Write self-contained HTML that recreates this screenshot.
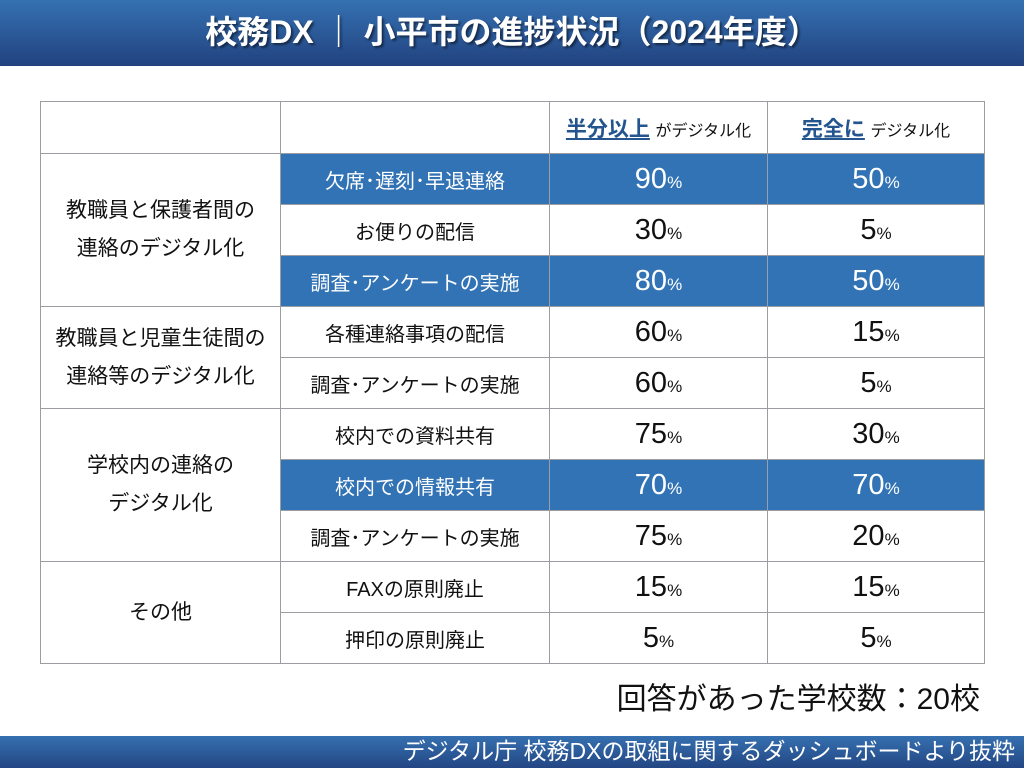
<!DOCTYPE html>
<html><head><meta charset="utf-8"><style>
body{margin:0;width:1024px;height:768px;position:relative;background:#fff;font-family:"Liberation Sans","Noto Sans CJK JP",sans-serif;overflow:hidden}
.hdr{position:absolute;left:0;top:0;width:1024px;height:66px;background:linear-gradient(#3571b2,#22427f);color:#fff;font-weight:bold;font-size:32px;text-align:center;line-height:64px;text-shadow:2px 2px 2px rgba(0,0,0,.5)}
table{position:absolute;left:40px;top:101px;border-collapse:collapse;table-layout:fixed}
td{border:1px solid #9a9ea3;text-align:center;font-size:20px;height:50px;padding:0;color:#111}
tr.h td{height:51px}
.b td.s{background:#3273b5;color:#fff;border-color:#9a9ea3}
.n{font-size:29px}
.n small{font-size:17px}
.u{color:#24558f;font-weight:bold;text-decoration:underline;font-size:21px}
.sm{font-size:16px}
.l{font-size:21px;line-height:38px}
.cnt{position:absolute;right:44px;top:674px;font-size:30px;color:#111}
.ftr{position:absolute;left:0;top:736px;width:1024px;height:32px;background:linear-gradient(#3670b0,#234683);color:#fff;font-size:23px;line-height:31px;text-align:right;box-sizing:border-box;padding-right:9px}
</style></head><body>
<div class="hdr">校務DX ｜ 小平市の進捗状況（2024年度）</div>
<table>
<colgroup><col style="width:240px"><col style="width:269px"><col style="width:218px"><col style="width:217px"></colgroup>
<tr class="h"><td></td><td></td><td><span class="u">半分以上</span> <span class="sm">がデジタル化</span></td><td><span class="u">完全に</span> <span class="sm">デジタル化</span></td></tr>
<tr class="b"><td rowspan="3" class="l">教職員と保護者間の<br>連絡のデジタル化</td><td class="s">欠席･遅刻･早退連絡</td><td class="s n">90<small>%</small></td><td class="s n">50<small>%</small></td></tr>
<tr><td>お便りの配信</td><td class="n">30<small>%</small></td><td class="n">5<small>%</small></td></tr>
<tr class="b"><td class="s">調査･アンケートの実施</td><td class="s n">80<small>%</small></td><td class="s n">50<small>%</small></td></tr>
<tr><td rowspan="2" class="l">教職員と児童生徒間の<br>連絡等のデジタル化</td><td>各種連絡事項の配信</td><td class="n">60<small>%</small></td><td class="n">15<small>%</small></td></tr>
<tr><td>調査･アンケートの実施</td><td class="n">60<small>%</small></td><td class="n">5<small>%</small></td></tr>
<tr><td rowspan="3" class="l">学校内の連絡の<br>デジタル化</td><td>校内での資料共有</td><td class="n">75<small>%</small></td><td class="n">30<small>%</small></td></tr>
<tr class="b"><td class="s">校内での情報共有</td><td class="s n">70<small>%</small></td><td class="s n">70<small>%</small></td></tr>
<tr><td>調査･アンケートの実施</td><td class="n">75<small>%</small></td><td class="n">20<small>%</small></td></tr>
<tr><td rowspan="2" class="l">その他</td><td>FAXの原則廃止</td><td class="n">15<small>%</small></td><td class="n">15<small>%</small></td></tr>
<tr><td>押印の原則廃止</td><td class="n">5<small>%</small></td><td class="n">5<small>%</small></td></tr>
</table>
<div class="cnt">回答があった学校数：20校</div>
<div class="ftr">デジタル庁 校務DXの取組に関するダッシュボードより抜粋</div>
</body></html>
